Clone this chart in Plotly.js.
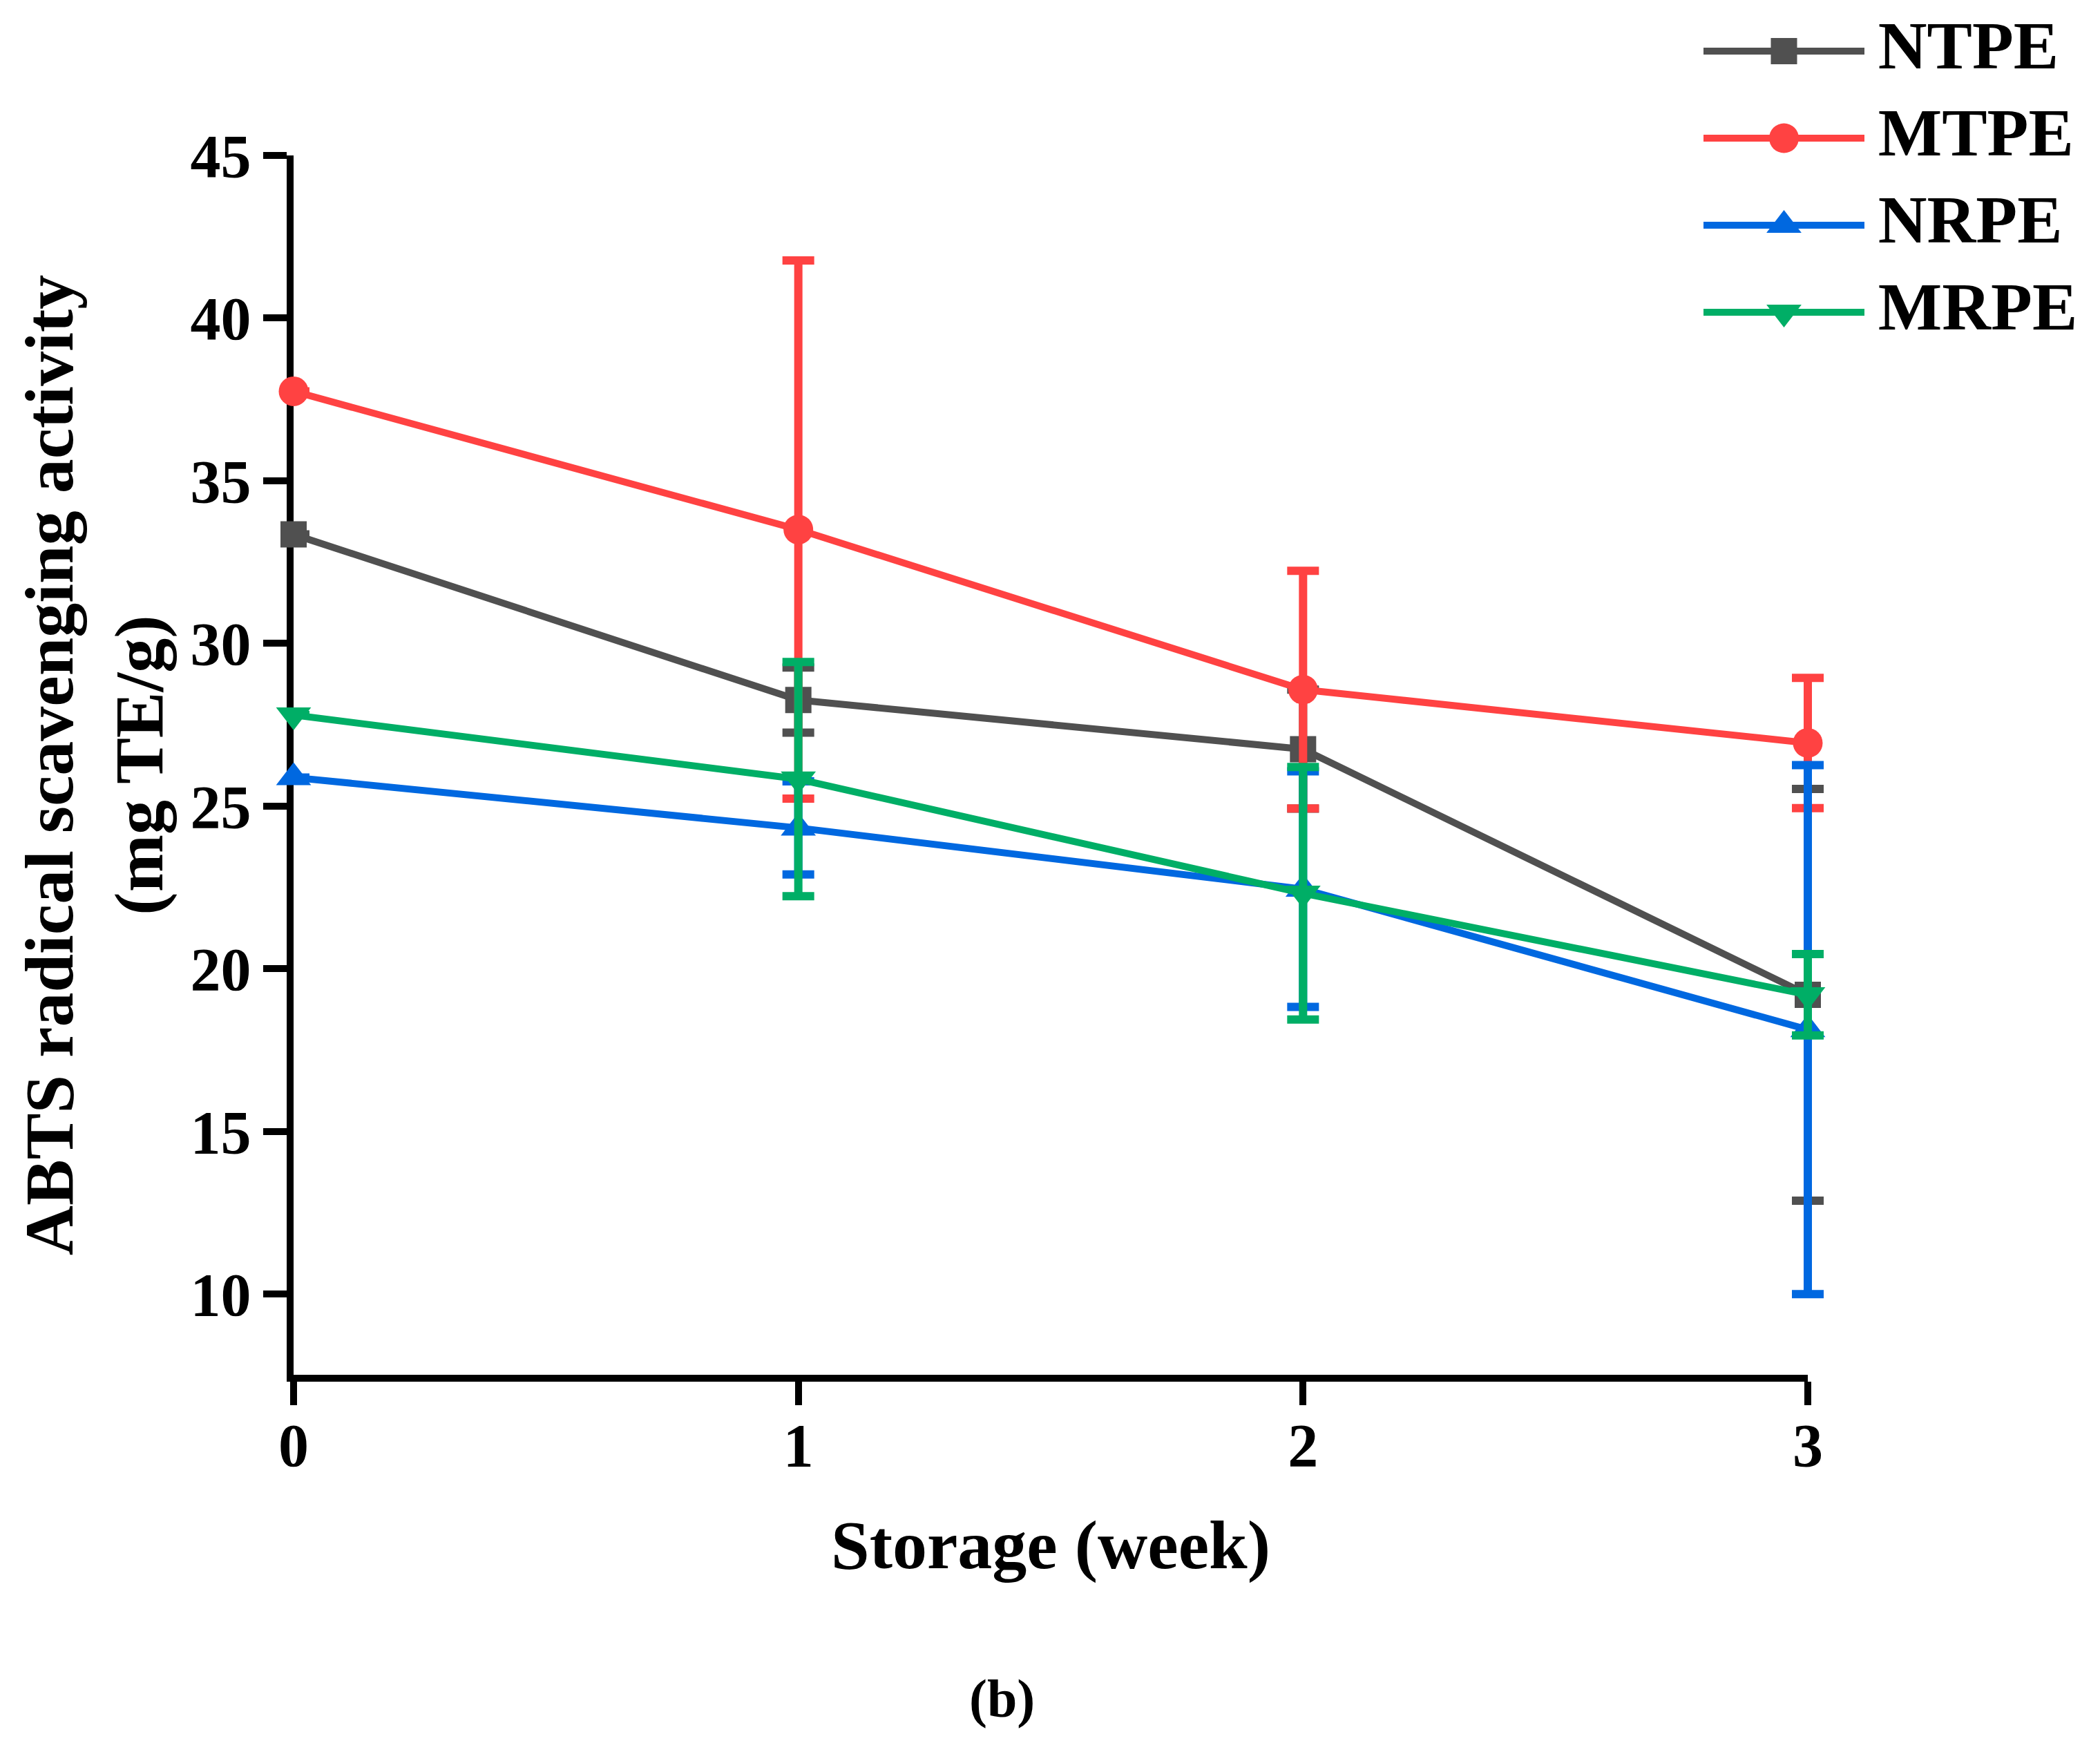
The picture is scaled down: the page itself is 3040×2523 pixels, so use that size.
<!DOCTYPE html>
<html>
<head>
<meta charset="utf-8">
<script src="https://cdn.plot.ly/plotly-3.0.1.min.js"></script>
<style>
  html, body { margin: 0; padding: 0; background: #fff; }
  #chart { width: 3040px; height: 2523px; }
</style>
</head>
<body>
<div id="chart"></div>
<script>
// storage time (week)
var weeks = [0, 1, 2, 3];
var weekTicks = ['0', '1', '2', '3'];

// ABTS radical scavenging activity (mg TE/g)
var ntpe = [33.35, 28.26, 26.75, 19.2];
var ntpeErr = [0, 1.0, 1.83, 6.33];
var mtpe = [37.75, 33.5, 28.58, 26.94];
var mtpeErr = [0, 8.27, 3.65, 2.0];
var nrpe = [25.88, 24.33, 22.45, 18.13];
var nrpeErr = [0, 1.43, 3.62, 8.13];
var mrpe = [27.8, 25.83, 22.32, 19.2];
var mrpeErr = [0, 3.6, 3.88, 1.25];

var yTicks = [10, 15, 20, 25, 30, 35, 40, 45];

var serif = 'Liberation Serif, Times New Roman, serif';

var seriesList = [
  { name: 'NTPE', y: ntpe, err: ntpeErr, color: '#505050', symbol: 'square', size: 38 },
  { name: 'MTPE', y: mtpe, err: mtpeErr, color: '#ff4242', symbol: 'circle', size: 43 },
  { name: 'NRPE', y: nrpe, err: nrpeErr, color: '#0068e0', symbol: 'triangle-up', size: 44 },
  { name: 'MRPE', y: mrpe, err: mrpeErr, color: '#00ae66', symbol: 'triangle-down', size: 44 }
];

var W = 3040, H = 2523;
var plotL = 425, plotR = 2617;
var xMax = 3, xPad = 0.1;
var pxPerWeek = (plotR - plotL) / xMax;

// empty trace so the visible axes (x, y) get their own subplot
var data = [{
  x: [],
  y: [],
  xaxis: 'x',
  yaxis: 'y',
  type: 'scatter',
  mode: 'markers',
  showlegend: false,
  hoverinfo: 'skip'
}];

// data sit on a hidden x axis with the same scale but a little extra room on the right,
// so the error bars at week 3 are not cut by the clip box
seriesList.forEach(function (s) {
  data.push({
    x: weeks,
    y: s.y,
    name: s.name,
    xaxis: 'x3',
    yaxis: 'y',
    type: 'scatter',
    mode: 'lines+markers',
    cliponaxis: false,
    showlegend: false,
    line: { color: s.color, width: 10 },
    marker: { color: s.color, symbol: s.symbol, size: s.size, opacity: 1, line: { width: 0 } },
    error_y: {
      type: 'data',
      array: s.err,
      visible: true,
      color: s.color,
      thickness: 12,
      width: 23
    }
  });
});

// legend drawn as sample lines on a hidden axis pair, one row per series
seriesList.forEach(function (s, i) {
  data.push({
    x: [-1, 0, 1],
    y: [i, i, i],
    xaxis: 'x2',
    yaxis: 'y2',
    type: 'scatter',
    mode: 'lines+markers+text',
    cliponaxis: false,
    showlegend: false,
    hoverinfo: 'skip',
    line: { color: s.color, width: 10 },
    marker: {
      color: ['rgba(0,0,0,0)', s.color, 'rgba(0,0,0,0)'],
      symbol: s.symbol,
      size: [0, s.size, 30],
      opacity: 1,
      line: { width: 0 }
    },
    text: ['', '', s.name],
    textposition: 'middle right',
    textfont: { family: serif, size: 98, weight: 'bold', color: '#000' }
  });
});

var layout = {
  width: W,
  height: H,
  paper_bgcolor: '#fff',
  plot_bgcolor: 'rgba(0,0,0,0)',
  font: { family: serif, color: '#000', size: 88, weight: 'bold' },
  margin: { l: 0, r: 0, t: 0, b: 0 },
  showlegend: false,
  xaxis: {
    domain: [plotL / W, plotR / W],
    anchor: 'y',
    range: [0, xMax],
    tickvals: weeks,
    ticktext: weekTicks,
    showgrid: false,
    zeroline: false,
    showline: true,
    layer: 'below traces',
    linewidth: 10,
    linecolor: '#000',
    ticks: 'outside',
    ticklen: 34,
    tickwidth: 10,
    tickcolor: '#000',
    ticklabelstandoff: -18,
    tickfont: { family: serif, size: 88, weight: 'bold' },
    title: {
      text: 'Storage (week)',
      font: { family: serif, size: 100, weight: 'bold' },
      standoff: 64
    }
  },
  xaxis3: {
    domain: [plotL / W, (plotR + xPad * pxPerWeek) / W],
    anchor: 'y',
    range: [0, xMax + xPad],
    visible: false,
    fixedrange: true
  },
  yaxis: {
    domain: [533 / H, 1 - 225 / H],
    anchor: 'x',
    range: [7.52, 45],
    tickvals: yTicks,
    showgrid: false,
    zeroline: false,
    showline: true,
    layer: 'below traces',
    linewidth: 10,
    linecolor: '#000',
    ticks: 'outside',
    ticklen: 34,
    tickwidth: 10,
    tickcolor: '#000',
    tickfont: { family: serif, size: 88, weight: 'bold' },
    title: {
      text: 'ABTS radical scavenging activity<br>(mg TE/g)',
      font: { family: serif, size: 100, weight: 'bold' },
      standoff: 10
    }
  },
  xaxis2: {
    domain: [2466 / W, 2699 / W],
    anchor: 'y2',
    range: [-1, 1],
    visible: false,
    fixedrange: true
  },
  yaxis2: {
    domain: [1 - 515 / H, 1 - 11 / H],
    anchor: 'x2',
    range: [3.5, -0.5],
    visible: false,
    fixedrange: true
  },
  annotations: [{
    text: '(b)',
    xref: 'paper',
    yref: 'paper',
    x: 1450 / W,
    y: 1 - 2458 / H,
    xanchor: 'center',
    yanchor: 'middle',
    showarrow: false,
    font: { family: serif, size: 78, weight: 'bold' }
  }]
};

Plotly.newPlot('chart', data, layout, { displayModeBar: false, staticPlot: true });
</script>
</body>
</html>
